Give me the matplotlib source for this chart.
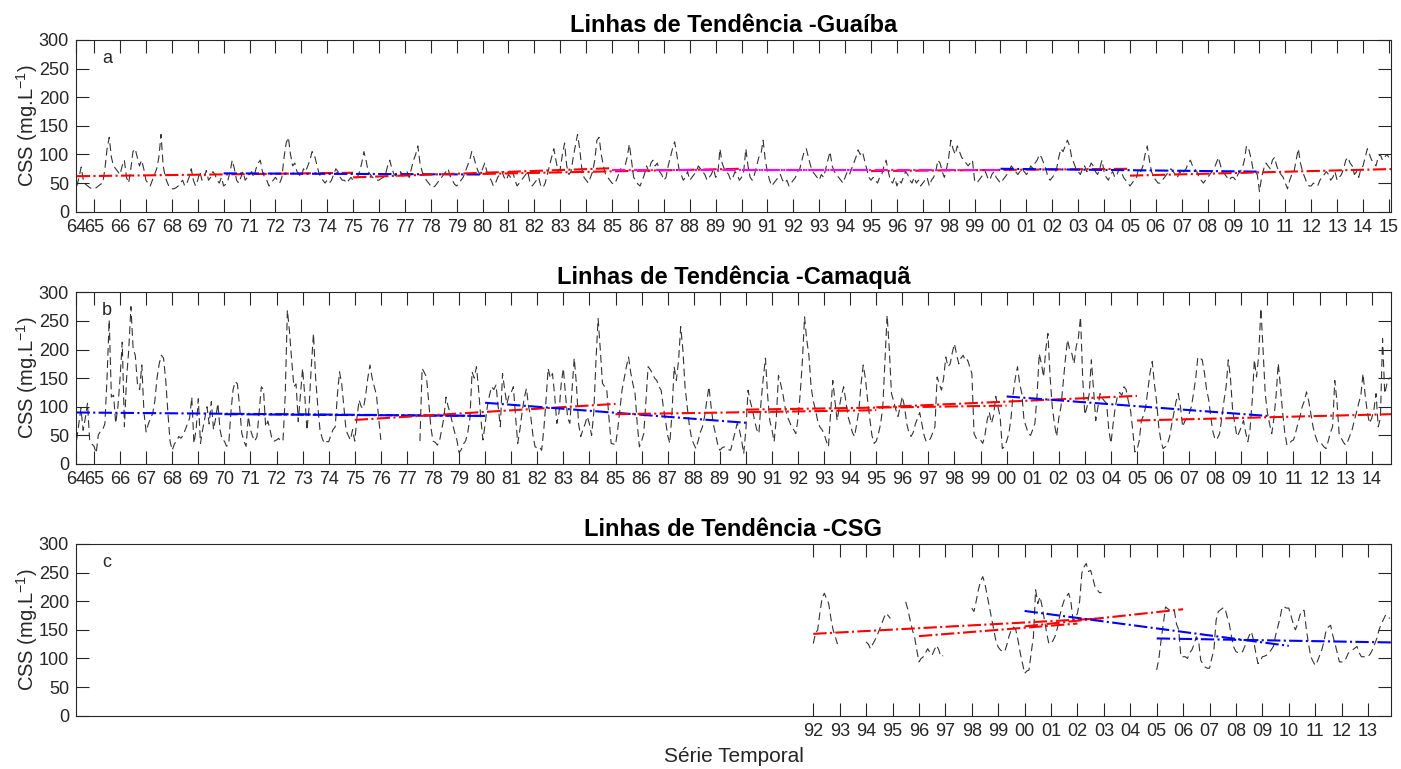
import numpy as np
import matplotlib
matplotlib.use('Agg')
import matplotlib.pyplot as plt

plt.rcParams['font.family'] = ['Liberation Sans', 'DejaVu Sans']
plt.rcParams['mathtext.fontset'] = 'custom'
plt.rcParams['mathtext.rm'] = 'Liberation Sans'
plt.rcParams['mathtext.it'] = 'Liberation Sans:italic'

nan = np.nan

# Concentração média mensal (mg/L) - Guaíba, mai/1964 a jan/2015
guaiba_inicio = 1964 + 4 / 12
guaiba_css = [
    45, 60, 78, 55, 48, 45, 42, 40,                              # 1964 (mai-dez)
    40, 42, 45, 48, 50, 75, 110, 130, 95, 80, 75, 70,            # 1965
    65, 80, 90, 60, 50, 75, 105, 110, 95, 80, 90, 75,            # 1966
    55, 50, 45, 55, 65, 75, 95, 135, 80, 60, 50, 42,             # 1967
    40, 40, 42, 45, 50, 55, 45, 50, 60, 75, 55, 45,              # 1968
    55, 70, 55, 60, 72, 55, 60, 70, 65, 55, 50, 60,              # 1969
    45, 48, 55, 70, 90, 75, 55, 50, 60, 70, 55, 60,              # 1970
    65, 70, 60, 75, 85, 90, 70, 60, 55, 45, 50, 55,              # 1971
    60, 55, 50, 60, 95, 120, 130, 100, 80, 85, 70, 65,           # 1972
    60, 75, 70, 80, 90, 105, 100, 85, 70, 60, 55, 50,            # 1973
    55, 50, 55, 65, 75, 70, 60, 55, 55, 50, 55, 60,              # 1974
    55, 58, 60, 70, 85, 105, 90, 70, 65, 60, 58, 55,             # 1975
    55, 58, 60, 65, 80, 90, 75, 65, 62, 65, 70, 62,              # 1976
    65, 70, 60, 75, 90, 100, 115, 85, 70, 60, 55, 50,            # 1977
    45, 42, 45, 50, 55, 60, 65, 70, 75, 62, 55, 48,              # 1978
    45, 50, 55, 60, 70, 80, 90, 105, 95, 80, 70, 65,             # 1979
    75, 85, 70, 60, 55, 45, 50, 60, 65, 70, 60, 55,              # 1980
    65, 60, 70, 55, 45, 50, 55, 60, 65, 70, 50, 45,              # 1981
    50, 55, 60, 45, 42, 50, 65, 80, 95, 110, 90, 70,             # 1982
    75, 100, 120, 80, 65, 70, 95, 115, 135, 110, 75, 60,         # 1983
    55, 50, 60, 70, 90, 125, 130, 100, 80, 65, 60, 55,           # 1984
    50, 48, 55, 65, 75, 70, 80, 95, 118, 90, 60, 55,             # 1985
    48, 45, 55, 65, 80, 70, 85, 90, 80, 85, 70, 65,              # 1986
    55, 60, 80, 95, 110, 122, 100, 75, 65, 55, 60, 70,           # 1987
    55, 60, 65, 70, 80, 75, 70, 65, 55, 60, 65, 75,              # 1988
    60, 65, 110, 85, 75, 70, 65, 55, 60, 70, 65, 55,             # 1989
    60, 70, 110, 80, 60, 55, 65, 80, 95, 100, 125, 90,           # 1990
    70, 55, 45, 50, 55, 60, 65, 55, 50, 55, 45, 50,              # 1991
    55, 60, 70, 75, 90, 105, 110, 95, 80, 70, 65, 60,            # 1992
    55, 65, 60, 75, 90, 105, 80, 70, 65, 60, 55, 50,             # 1993
    60, 70, 65, 75, 85, 95, 108, 100, 105, 90, 75, 60,           # 1994
    55, 60, 55, 50, 60, 65, 80, 90, 70, 55, 50, 60,              # 1995
    45, 55, 50, 60, 70, 65, 55, 50, 60, 50, 55, 45,              # 1996
    50, 55, 60, 45, 55, 60, 70, 90, 85, 70, 60, 75,              # 1997
    95, 125, 110, 100, 115, 105, 95, 90, 85, 80, 85, 90,         # 1998
    55, 50, 55, 60, 65, 70, 60, 55, 65, 70, 60, 55,              # 1999
    50, 55, 60, 65, 70, 80, 75, 70, 65, 70, 75, 70,              # 2000
    65, 70, 80, 75, 85, 90, 100, 95, 85, 75, 60, 55,             # 2001
    60, 65, 75, 95, 110, 105, 115, 125, 115, 95, 85, 75,         # 2002
    70, 65, 75, 80, 70, 75, 85, 80, 70, 65, 75, 90,              # 2003
    70, 60, 55, 65, 70, 60, 65, 75, 70, 60, 55, 50,              # 2004
    45, 50, 55, 60, 75, 70, 80, 100, 115, 90, 70, 60,            # 2005
    55, 50, 50, 55, 60, 65, 70, 75, 70, 65, 60, 70,              # 2006
    65, 70, 75, 85, 90, 80, 75, 70, 60, 55, 50, 55,              # 2007
    60, 65, 70, 75, 85, 95, 80, 70, 65, 60, 55, 60,              # 2008
    60, 55, 65, 70, 75, 90, 115, 110, 95, 75, 70, 65,            # 2009
    35, 60, 75, 85, 80, 75, 90, 95, 80, 70, 65, 60,              # 2010
    50, 40, 55, 65, 70, 90, 110, 85, 70, 60, 50, 45,             # 2011
    45, 50, 48, 45, 55, 60, 65, 70, 65, 55, 60, 70,              # 2012
    55, 60, 65, 75, 90, 95, 85, 80, 65, 70, 60, 75,              # 2013
    80, 95, 110, 100, 90, 85, 80, 95, 100, 90, 95, 100,          # 2014
    95,                                                          # 2015 (jan)
]

# Camaquã, mai/1964 a out/2014 (falha entre 1976 e 1977)
camaqua_inicio = 1964 + 4 / 12
camaqua_css = [
    42, 70, 97, 59, 80, 106, 42, 35,                             # 1964 (mai-dez)
    31, 19, 51, 57, 60, 70, 150, 252, 117, 120, 71, 100,         # 1965
    150, 213, 65, 150, 200, 275, 202, 190, 140, 130, 173, 90,    # 1966
    56, 70, 80, 88, 110, 150, 175, 190, 185, 147, 90, 40,        # 1967
    24, 35, 40, 48, 45, 50, 60, 70, 80, 117, 36, 60,             # 1968
    114, 36, 60, 80, 100, 70, 109, 60, 80, 106, 60, 42,          # 1969
    40, 31, 35, 90, 130, 144, 140, 100, 54, 40, 31, 83,          # 1970
    60, 48, 40, 48, 90, 135, 130, 65, 75, 60, 42, 40,            # 1971
    42, 45, 39, 42, 120, 269, 230, 180, 135, 140, 74, 120,       # 1972
    167, 120, 59, 100, 170, 228, 150, 100, 60, 45, 36, 39,       # 1973
    39, 50, 60, 65, 120, 161, 140, 100, 59, 50, 42, 60,          # 1974
    40, 80, 112, 100, 97, 120, 150, 173, 150, 135, 120, 80,      # 1975
    42, nan, nan, nan, nan, nan, nan, nan, nan, nan, nan, nan,   # 1976
    nan, nan, nan, nan, nan, nan, 40, 167, 160, 152, 110, 65,    # 1977
    40, 38, 33, 40, 60, 80, 117, 100, 88, 70, 55, 42,            # 1978
    20, 25, 35, 40, 55, 80, 161, 150, 170, 130, 80, 42,          # 1979
    70, 100, 120, 135, 130, 138, 100, 65, 158, 130, 105, 120,    # 1980
    125, 135, 83, 36, 60, 90, 115, 132, 100, 83, 50, 30,         # 1981
    28, 30, 24, 60, 110, 167, 150, 158, 120, 71, 90, 140,        # 1982
    167, 120, 80, 71, 130, 185, 140, 70, 48, 60, 70, 83,         # 1983
    70, 50, 90, 180, 254, 200, 141, 135, 129, 80, 36, 35,        # 1984
    33, 60, 95, 129, 150, 170, 187, 160, 140, 123, 70, 30,       # 1985
    40, 53, 110, 170, 165, 158, 150, 146, 135, 129, 100, 76,     # 1986
    50, 36, 90, 170, 146, 180, 240, 200, 135, 100, 67, 45,       # 1987
    35, 27, 40, 55, 65, 83, 110, 135, 100, 70, 53, 35,           # 1988
    24, 28, 30, 27, 25, 24, 40, 55, 71, 60, 42, 18,              # 1989
    60, 129, 110, 95, 76, 60, 53, 110, 150, 185, 120, 76,        # 1990
    60, 39, 80, 155, 140, 123, 100, 83, 75, 65, 60, 53,          # 1991
    80, 123, 180, 257, 217, 190, 135, 110, 95, 76, 65, 60,       # 1992
    53, 40, 30, 90, 146, 110, 76, 100, 120, 135, 110, 83,        # 1993
    70, 55, 48, 70, 94, 140, 173, 150, 112, 80, 50, 36,          # 1994
    40, 53, 70, 100, 180, 260, 200, 123, 110, 95, 83, 100,       # 1995
    118, 100, 71, 55, 48, 55, 70, 80, 90, 70, 50, 39,            # 1996
    40, 45, 55, 65, 152, 140, 129, 150, 187, 170, 175, 195,      # 1997
    210, 190, 175, 185, 190, 180, 182, 170, 158, 53, 45, 42,     # 1998
    42, 36, 50, 76, 91, 71, 85, 118, 100, 83, 27, 30,            # 1999
    40, 53, 80, 123, 150, 170, 140, 123, 76, 65, 53, 50,         # 2000
    60, 71, 120, 193, 175, 152, 200, 228, 152, 100, 70, 48,      # 2001
    80, 100, 140, 182, 217, 200, 193, 175, 205, 220, 257, 150,   # 2002
    86, 100, 123, 182, 130, 76, 100, 123, 115, 110, 106, 60,     # 2003
    36, 70, 100, 118, 125, 120, 135, 130, 110, 94, 60, 21,       # 2004
    25, 40, 76, 85, 100, 130, 160, 179, 140, 110, 65, 40,        # 2005
    27, 30, 35, 48, 70, 90, 110, 123, 100, 65, 75, 80,           # 2006
    88, 100, 123, 150, 187, 185, 182, 160, 130, 112, 80, 55,     # 2007
    42, 45, 53, 80, 110, 135, 182, 150, 94, 70, 48, 55,          # 2008
    65, 76, 55, 39, 60, 110, 182, 152, 190, 272, 200, 123,       # 2009
    90, 70, 53, 80, 120, 176, 135, 90, 55, 33, 35, 40,           # 2010
    42, 55, 70, 83, 100, 110, 126, 110, 88, 65, 50, 39,          # 2011
    39, 35, 30, 27, 40, 55, 65, 146, 110, 53, 45, 38,            # 2012
    33, 40, 50, 60, 76, 90, 106, 120, 158, 120, 90, 71,          # 2013
    80, 95, 123, 65, 80, 219, 123, 140, 150, 150,                # 2014 (jan-out)
]

# CSG, jan/1992 a nov/2013 (com falhas)
csg_inicio = 1992.0
csg_css = [
    126, 144, 150, 180, 205, 214, 205, 196, 170, 150, 138, 125,  # 1992
    nan, nan, nan, nan, nan, nan, nan, nan, nan, nan, nan, nan,  # 1993
    129, 125, 117, 125, 132, 140, 150, 160, 170, 179, 175, 170,  # 1994
    nan, nan, nan, nan, nan, nan, 199, 185, 167, 150, 138, 115,  # 1995
    94, 100, 103, 110, 117, 110, 106, 115, 123, 115, 103, 105,   # 1996
    nan, nan, nan, nan, nan, nan, nan, nan, nan, nan, nan, nan,  # 1997
    188, 182, 200, 220, 235, 243, 230, 210, 190, 170, 150, 130,  # 1998
    120, 115, 112, 112, 125, 140, 150, 155, 150, 132, 110, 92,   # 1999
    74, 78, 80, 110, 138, 220, 196, 208, 190, 167, 145, 126,     # 2000
    126, 132, 140, 155, 175, 190, 202, 208, 214, 200, 167, 170,  # 2001
    179, 200, 249, 260, 266, 252, 254, 240, 225, 220, 215, 215,  # 2002
    nan, nan, nan, nan, nan, nan, nan, nan, nan, nan, nan, nan,  # 2003
    nan, nan, nan, nan, nan, nan, nan, nan, nan, nan, nan, nan,  # 2004
    80, 100, 132, 160, 190, 187, 184, 184, 184, 160, 150, 103,   # 2005
    103, 103, 100, 110, 115, 125, 138, 132, 97, 90, 85, 83,      # 2006
    83, 100, 115, 167, 182, 185, 188, 188, 173, 160, 138, 120,   # 2007
    112, 110, 109, 112, 121, 130, 140, 147, 132, 110, 91, 95,    # 2008
    103, 104, 106, 110, 115, 121, 140, 155, 170, 190, 190, 188,  # 2009
    188, 175, 161, 150, 160, 175, 184, 184, 150, 125, 103, 95,   # 2010
    88, 95, 105, 115, 130, 150, 155, 158, 140, 126, 110, 94,     # 2011
    94, 94, 100, 109, 112, 115, 118, 121, 110, 103, 103, 103,    # 2012
    103, 108, 115, 125, 135, 150, 160, 168, 176, 172, 170,       # 2013 (jan-nov)
]

# Linhas de tendência: ano inicial, ano final, valor inicial, valor final, cor
guaiba_tend_x0 = [1964.33, 1970, 1975, 1980, 1995, 2000, 2005, 1985, 1990]
guaiba_tend_x1 = [1975, 1980, 1985, 1990, 2005, 2010, 2015.08, 1995, 2000]
guaiba_tend_y0 = [62, 67, 60, 66, 71, 75, 63, 73, 73]
guaiba_tend_y1 = [68, 65, 76, 75, 75, 70, 74.5, 73, 73]
guaiba_tend_cor = ['red', 'blue', 'red', 'red', 'red', 'blue', 'red', 'magenta', 'magenta']

camaqua_tend_x0 = [1964.33, 1970, 1975, 1980, 1985, 1990, 1995, 2000, 2005]
camaqua_tend_x1 = [1980, 1980, 1985, 1990, 1995, 2000, 2005, 2010, 2014.74]
camaqua_tend_y0 = [90, 87, 77, 107, 87, 95, 99, 118, 76]
camaqua_tend_y1 = [84, 84, 105, 72, 94, 102, 119, 84, 87]
camaqua_tend_cor = ['blue', 'blue', 'red', 'blue', 'red', 'red', 'red', 'blue', 'red']

csg_tend_x0 = [1992, 1996, 2000, 2000, 2005]
csg_tend_x1 = [2002.9, 2002, 2006, 2010, 2013.87]
csg_tend_y0 = [143, 139, 156, 183, 135]
csg_tend_y1 = [170, 161, 186, 122, 128]
csg_tend_cor = ['red', 'red', 'red', 'blue', 'blue']

paineis = [
    dict(nome='Guaíba', letra='a', inicio=guaiba_inicio, css=guaiba_css,
         xlim=(1964.30, 2015.08), anos=list(range(1964, 2016)),
         tend=(guaiba_tend_x0, guaiba_tend_x1, guaiba_tend_y0, guaiba_tend_y1, guaiba_tend_cor)),
    dict(nome='Camaquã', letra='b', inicio=camaqua_inicio, css=camaqua_css,
         xlim=(1964.31, 2014.74), anos=list(range(1964, 2015)),
         tend=(camaqua_tend_x0, camaqua_tend_x1, camaqua_tend_y0, camaqua_tend_y1, camaqua_tend_cor)),
    dict(nome='CSG', letra='c', inicio=csg_inicio, css=csg_css,
         xlim=(1964.09, 2013.87), anos=list(range(1992, 2014)),
         tend=(csg_tend_x0, csg_tend_x1, csg_tend_y0, csg_tend_y1, csg_tend_cor)),
]

cinza = '#262626'
fig = plt.figure(figsize=(14.01, 7.69), dpi=100)

esq, larg, alt = 76 / 1401, 1315 / 1401, 171.7 / 769
bases = [1 - 211.7 / 769, 1 - 464 / 769, 1 - 715.7 / 769]

for p, base in zip(paineis, bases):
    ax = fig.add_axes([esq, base, larg, alt])
    css = np.array(p['css'], dtype=float)
    t = p['inicio'] + np.arange(len(css)) / 12
    ax.plot(t, css, color='#333333', linestyle=(0, (7, 4)), linewidth=0.8)

    x0, x1, y0, y1, cores = p['tend']
    for a, b, va, vb, c in zip(x0, x1, y0, y1, cores):
        ax.plot([a, b], [va, vb], color=c, linestyle='-.', linewidth=1.5)

    ax.set_xlim(*p['xlim'])
    ax.set_ylim(0, 300)
    ax.set_yticks(np.arange(0, 301, 50))

    # primeiro rótulo no início da série
    anos = p['anos']
    pos = [max(a, p['xlim'][0]) for a in anos]
    ax.set_xticks(pos)
    ax.set_xticklabels(['%02d' % (a % 100) for a in anos])

    ax.tick_params(axis='both', direction='in', length=9.5, width=0.8,
                   colors=cinza, labelsize=13, top=True, right=True)
    ax.tick_params(axis='x', pad=5)
    ax.tick_params(axis='y', pad=5)
    for s in ax.spines.values():
        s.set_color(cinza)
        s.set_linewidth(0.8)

    ax.set_title('Linhas de Tendência -' + p['nome'], fontsize=17, fontweight='bold')
    ax.set_ylabel(r'CSS (mg.L$^{-1}$)', fontsize=14.5, color=cinza, labelpad=-1)
    ax.text(0.0236, 0.895, p['letra'], transform=ax.transAxes, fontsize=13,
            color=cinza, ha='center', va='center')

ax.set_xlabel('Série Temporal', fontsize=15, color=cinza, labelpad=5)

fig.savefig('out.png', dpi=100)
